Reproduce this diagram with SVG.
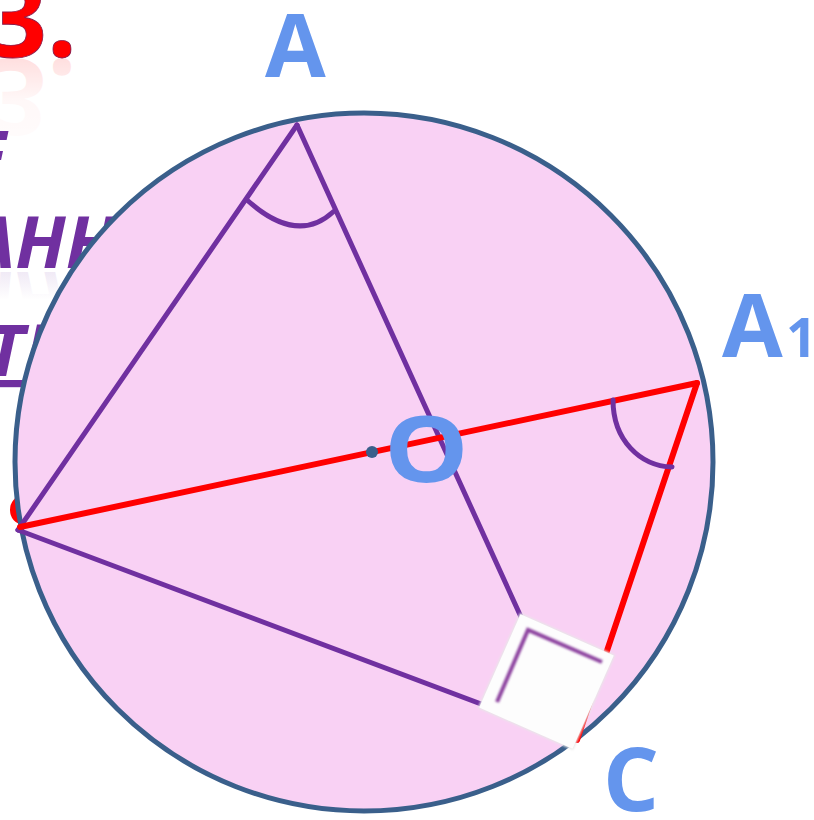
<svg xmlns="http://www.w3.org/2000/svg" width="814" height="820" viewBox="0 0 814 820">
<style>
.red{font-family:"Open Sans","Liberation Sans",sans-serif;font-weight:700;font-size:105px;fill:#ff0000;stroke:#8a1a4a;stroke-width:0.8px}
.pt{font-family:"Open Sans","Liberation Sans",sans-serif;font-weight:700;font-style:italic;font-size:72px;fill:#7030a0}
.lbl{font-family:"Open Sans","Liberation Sans",sans-serif;font-weight:700;fill:#6495ed}
.pl{stroke:#7030a0;stroke-width:5;fill:none;stroke-linecap:round}
.rl{stroke:#ff0000;stroke-width:6;fill:none;stroke-linecap:round}
</style>
<defs>
<filter id="soft" x="-20%" y="-20%" width="140%" height="140%"><feGaussianBlur stdDeviation="1.2"/></filter>
<linearGradient id="fadeRed" x1="0" y1="0" x2="0" y2="1">
<stop offset="0" stop-color="#ff0000" stop-opacity="0"/>
<stop offset="0.5" stop-color="#ff0000" stop-opacity="0.03"/>
<stop offset="1" stop-color="#ff0000" stop-opacity="0.2"/>
</linearGradient>
<linearGradient id="fadePurple" x1="0" y1="0" x2="0" y2="1">
<stop offset="0" stop-color="#7030a0" stop-opacity="0"/>
<stop offset="0.5" stop-color="#7030a0" stop-opacity="0"/>
<stop offset="1" stop-color="#7030a0" stop-opacity="0.18"/>
</linearGradient>
</defs>
<rect width="814" height="820" fill="#ffffff"/>
<g id="background-text">
<text class="red" x="-13" y="57">3.</text>
<g transform="translate(0,116) scale(1,-1)"><text class="red" x="-13" y="57" style="stroke:none;fill:url(#fadeRed)">3.</text></g>
<text class="pt" x="-33" y="182">Е</text>
<text class="pt" x="-30" y="268">АНН</text>
<g transform="translate(0,540) scale(1,-1)"><text class="pt" x="-30" y="268" style="fill:url(#fadePurple)">АНН</text></g>
<text class="pt" x="-14" y="376" text-decoration="underline">ТІ</text>
<ellipse cx="22" cy="510" rx="12" ry="14" fill="#ff0000"/>
</g>
<g id="circle">
<circle cx="364" cy="462" r="349" fill="#f9d1f4" stroke="#3a5f8b" stroke-width="5"/>
</g>
<g id="connectors">
<line class="pl" x1="297" y1="125" x2="18" y2="530"/>
<line class="pl" x1="297" y1="125" x2="577" y2="740"/>
<line class="pl" x1="18" y1="530" x2="577" y2="740"/>
<line class="rl" x1="20" y1="527" x2="697" y2="383"/>
<line class="rl" x1="697" y1="383" x2="577" y2="740"/>
<path class="pl" d="M247,200 Q297,245 333,212"/>
<path class="pl" d="M613,400 C613,440 640,466 672,467" stroke-linecap="butt"/>
</g>
<g id="right-angle">
<rect x="-52" y="-52" width="104" height="104" fill="#e8e8e8" filter="url(#soft)" transform="translate(546.5,681.5) rotate(23.85)"/>
<rect x="-51" y="-51" width="102" height="102" fill="#fdfdfd" transform="translate(546.5,681.5) rotate(23.85)"/>
<path d="M497,702 L528,630 L602,662" fill="none" stroke="#8e44a0" stroke-width="4" filter="url(#soft)"/>
</g>
<g id="O">
<circle cx="372" cy="452" r="6" fill="#3a5f8b"/>
<text class="lbl" font-size="91" transform="translate(384,482) scale(1.17,1)">O</text>
</g>
<g id="A"><text class="lbl" x="265" y="77" font-size="88">A</text></g>
<g id="A1"><text class="lbl" x="722" y="357" font-size="88">A</text><text class="lbl" x="786" y="357" font-size="54">1</text></g>
<g id="C"><text class="lbl" x="603" y="811" font-size="88">C</text></g>
</svg>
